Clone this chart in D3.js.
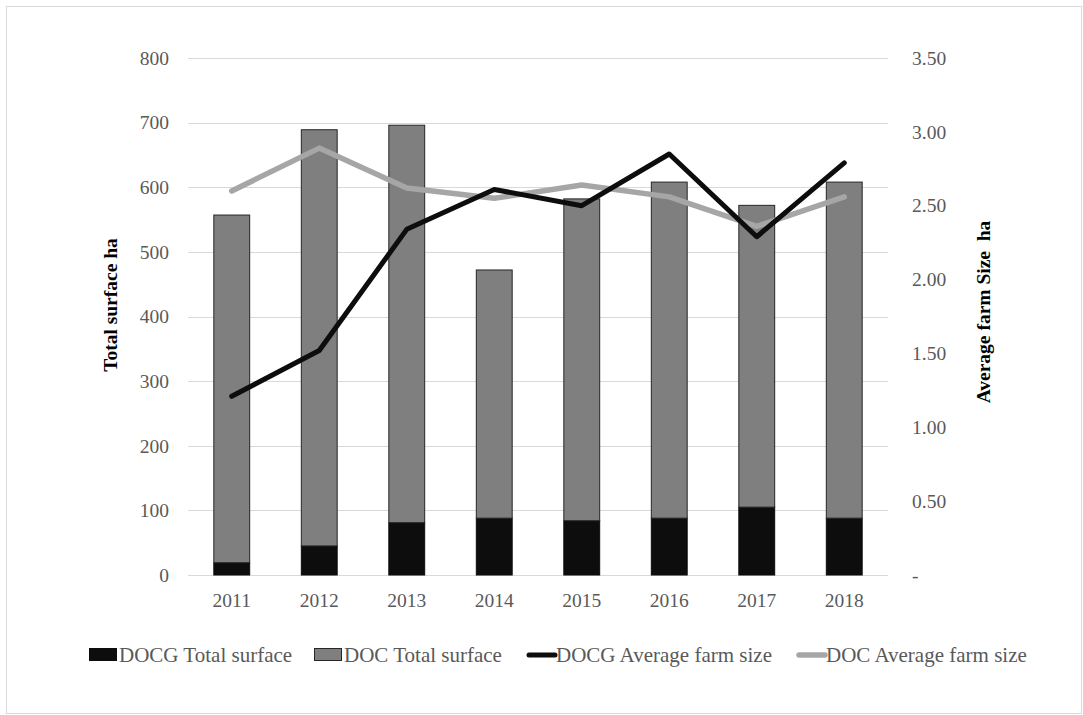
<!DOCTYPE html>
<html>
<head>
<meta charset="utf-8">
<script src="https://cdn.jsdelivr.net/npm/d3@7"></script>
<style>
  html, body { margin: 0; padding: 0; background: #fff; }
  svg { display: block; font-family: "Liberation Serif", "Times New Roman", serif; }
</style>
</head>
<body>
<svg id="chart" width="1083" height="715"></svg>
<script>
// Yearly DOC / DOCG wine surfaces (ha) and average farm size (ha)
const years = ["2011", "2012", "2013", "2014", "2015", "2016", "2017", "2018"];
const docgSurface = [19, 45, 81, 88, 84, 88, 105, 88];
const docSurface = [538, 644, 615, 384, 498, 520, 467, 520];
const docgAvgSize = [1.21, 1.52, 2.34, 2.61, 2.50, 2.85, 2.29, 2.79];
const docAvgSize = [2.60, 2.89, 2.62, 2.55, 2.64, 2.56, 2.36, 2.56];
const leftTicks = [0, 100, 200, 300, 400, 500, 600, 700, 800];
const rightTicks = [0, 0.5, 1, 1.5, 2, 2.5, 3, 3.5];
const legendLabels = ["DOCG Total surface", "DOC Total surface", "DOCG Average farm size", "DOC Average farm size"];

const svg = d3.select("#chart");
const W = 1083, H = 715;
const plot = { left: 188, right: 888, top: 58, bottom: 575 };
const textColor = "#595959";
const serif = "'Liberation Serif', 'Times New Roman', serif";

// outer frame
svg.append("rect")
  .attr("x", 6.5).attr("y", 6.5)
  .attr("width", W - 8).attr("height", H - 8)
  .attr("fill", "#fff").attr("stroke", "#d9d9d9").attr("stroke-width", 1);

const x = d3.scaleBand()
  .domain(years)
  .range([plot.left, plot.right])
  .paddingInner(0.59)
  .paddingOuter(0.295);

const yL = d3.scaleLinear().domain([0, 800]).range([plot.bottom, plot.top]);
const yR = d3.scaleLinear().domain([0, 3.5]).range([plot.bottom, plot.top]);

// gridlines
svg.append("g")
  .selectAll("line")
  .data(leftTicks)
  .join("line")
  .attr("x1", plot.left).attr("x2", plot.right)
  .attr("y1", d => Math.round(yL(d)) + 0.5)
  .attr("y2", d => Math.round(yL(d)) + 0.5)
  .attr("stroke", "#d9d9d9").attr("stroke-width", 1);

// left axis
const axL = svg.append("g")
  .attr("transform", `translate(${plot.left - 19},0)`)
  .call(d3.axisLeft(yL).tickValues(leftTicks).tickSize(0).tickPadding(0).tickFormat(d3.format("d")));
axL.select(".domain").remove();
axL.selectAll("text")
  .attr("fill", textColor)
  .style("font-size", "19.5px")
  .style("font-family", serif);

// right axis
const axR = svg.append("g")
  .attr("transform", `translate(${plot.right + 24},0)`)
  .call(d3.axisRight(yR).tickValues(rightTicks).tickSize(0).tickPadding(0)
    .tickFormat(d => d === 0 ? "-" : d3.format(".2f")(d)));
axR.select(".domain").remove();
axR.selectAll("text")
  .attr("fill", textColor)
  .style("font-size", "19.5px")
  .style("font-family", serif);

// category axis
const axB = svg.append("g")
  .attr("transform", `translate(0,${plot.bottom + 18})`)
  .call(d3.axisBottom(x).tickSize(0).tickPadding(0));
axB.select(".domain").remove();
axB.selectAll("text")
  .attr("fill", textColor)
  .style("font-size", "19.5px")
  .style("font-family", serif);

// stacked bars
const rows = years.map((yr, i) => ({ year: yr, docg: docgSurface[i], doc: docSurface[i] }));
const stack = d3.stack().keys(["docg", "doc"])(rows);
const barFill = { docg: "#0d0d0d", doc: "#7f7f7f" };
const barStroke = { docg: "#0d0d0d", doc: "#262626" };

svg.append("g")
  .selectAll("g")
  .data(stack)
  .join("g")
  .attr("fill", s => barFill[s.key])
  .attr("stroke", s => barStroke[s.key])
  .attr("stroke-width", 1)
  .selectAll("rect")
  .data(s => s)
  .join("rect")
  .attr("x", d => x(d.data.year))
  .attr("width", x.bandwidth())
  .attr("y", d => yL(d[1]))
  .attr("height", d => yL(d[0]) - yL(d[1]));

// average farm size lines
const cx = yr => x(yr) + x.bandwidth() / 2;
const lineGen = vals => d3.line()
  .x((d, i) => cx(years[i]))
  .y(d => yR(d))(vals);

svg.append("path")
  .attr("d", lineGen(docAvgSize))
  .attr("fill", "none")
  .attr("stroke", "#a6a6a6")
  .attr("stroke-width", 5.5)
  .attr("stroke-linejoin", "round")
  .attr("stroke-linecap", "round");

svg.append("path")
  .attr("d", lineGen(docgAvgSize))
  .attr("fill", "none")
  .attr("stroke", "#0d0d0d")
  .attr("stroke-width", 5)
  .attr("stroke-linejoin", "round")
  .attr("stroke-linecap", "round");

// axis titles
svg.append("text")
  .attr("transform", `translate(${plot.left - 71},${305}) rotate(-90)`)
  .attr("text-anchor", "middle")
  .attr("font-weight", "bold")
  .attr("font-size", "19.5px")
  .attr("fill", "#000")
  .text("Total surface ha");

svg.append("text")
  .attr("transform", `translate(${plot.right + 102},${312}) rotate(-90)`)
  .attr("text-anchor", "middle")
  .attr("font-weight", "bold")
  .attr("font-size", "19.5px")
  .attr("fill", "#000")
  .style("white-space", "pre")
  .text("Average farm Size  ha");

// legend
const legendY = 655;
const legendX = [89, 314, 526, 796];
const legendKinds = [
  { type: "rect", fill: "#0d0d0d", stroke: "#0d0d0d" },
  { type: "rect", fill: "#7f7f7f", stroke: "#262626" },
  { type: "line", stroke: "#0d0d0d", width: 5 },
  { type: "line", stroke: "#a6a6a6", width: 5.5 }
];
const lg = svg.append("g");
legendLabels.forEach((label, i) => {
  const k = legendKinds[i];
  const g = lg.append("g").attr("transform", `translate(${legendX[i]},${legendY})`);
  if (k.type === "rect") {
    g.append("rect")
      .attr("x", 0.5).attr("y", -6.5)
      .attr("width", 27).attr("height", 12)
      .attr("fill", k.fill).attr("stroke", k.stroke).attr("stroke-width", 1);
  } else {
    g.append("line")
      .attr("x1", 3).attr("x2", 29)
      .attr("y1", 0).attr("y2", 0)
      .attr("stroke", k.stroke).attr("stroke-width", k.width)
      .attr("stroke-linecap", "round");
  }
  g.append("text")
    .attr("x", 30).attr("y", 0)
    .attr("dy", "0.35em")
    .attr("font-size", "21px")
    .attr("fill", textColor)
    .text(label);
});
</script>
</body>
</html>
